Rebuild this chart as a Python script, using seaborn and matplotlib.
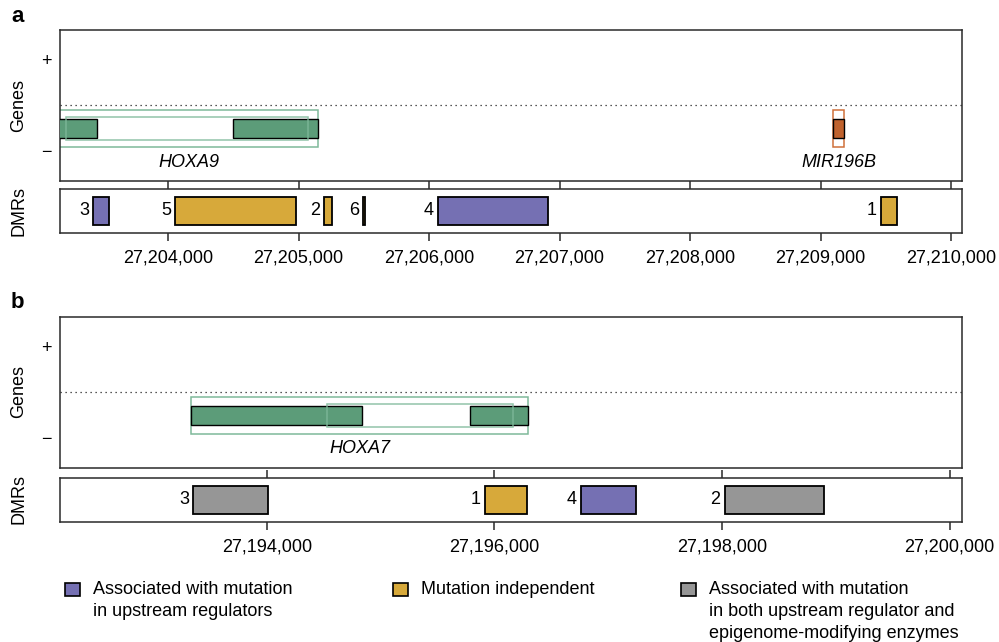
import matplotlib
matplotlib.use("Agg")
import matplotlib.pyplot as plt
from matplotlib.patches import Rectangle
from matplotlib.ticker import FuncFormatter, FixedLocator
import seaborn as sns

# ---------------- data ----------------
# Region a: HOXA9 / MIR196B (chr7, bp)
a_xlim = (27203172, 27210084)
a_ticks = [27204000, 27205000, 27206000, 27207000, 27208000, 27209000, 27210000]
a_gene_names = ["HOXA9", "MIR196B"]
a_tx_start = [27202057, 27209099]
a_tx_end = [27205149, 27209182]
a_cds_start = [27203218, None]
a_cds_end = [27205073, None]
a_exon_start = [[27202057, 27204498], [27209099]]
a_exon_end = [[27203456, 27205149], [27209182]]
a_gene_kind = ["hox", "mir"]

a_dmr_id = ["3", "5", "2", "6", "4", "1"]
a_dmr_start = [27203425, 27204054, 27205195, 27205496, 27206069, 27209464]
a_dmr_end = [27203548, 27204981, 27205257, 27205509, 27206912, 27209586]
a_dmr_class = ["upstream", "independent", "independent", "independent", "upstream", "independent"]

# Region b: HOXA7
b_xlim = (27192184, 27200108)
b_ticks = [27194000, 27196000, 27198000, 27200000]
b_gene_names = ["HOXA7"]
b_tx_start = [27193338]
b_tx_end = [27196296]
b_cds_start = [27194530]
b_cds_end = [27196164]
b_exon_start = [[27193338, 27195786]]
b_exon_end = [[27194837, 27196296]]
b_gene_kind = ["hox"]

b_dmr_id = ["3", "1", "4", "2"]
b_dmr_start = [27193353, 27195918, 27196759, 27198024]
b_dmr_end = [27194011, 27196289, 27197242, 27198896]
b_dmr_class = ["both", "independent", "upstream", "both"]

legend_keys = ["upstream", "independent", "both"]
legend_labels = [
    "Associated with mutation\nin upstream regulators",
    "Mutation independent",
    "Associated with mutation\nin both upstream regulator and\nepigenome-modifying enzymes",
]

# ---------------- style ----------------
sns.set_theme(style="white")
plt.rcParams["font.family"] = ["Liberation Sans", "DejaVu Sans"]
plt.rcParams["font.size"] = 13
plt.rcParams["text.color"] = "black"
plt.rcParams["axes.labelcolor"] = "black"
plt.rcParams["xtick.color"] = "black"
plt.rcParams["ytick.color"] = "black"

class_colors = dict(zip(legend_keys, sns.color_palette(["#7570b3", "#d7a93a", "#969696"])))
gene_fill = {"hox": "#5c9c79", "mir": "#c0622d"}
gene_line = {"hox": "#7fb99a", "mir": "#d0703a"}
frame_col = "#2a2a2a"

W, H = 999, 642
fig = plt.figure(figsize=(W / 100, H / 100), dpi=100)


def px_axes(left, top, right, bottom):
    return fig.add_axes([left / W, 1 - bottom / H, (right - left) / W, (bottom - top) / H])


def style_frame(ax):
    for s in ax.spines.values():
        s.set_visible(True)
        s.set_color(frame_col)
        s.set_linewidth(1.1)


GENE_Y = 0.347


def draw_genes(ax, xlim, names, tx_s, tx_e, cds_s, cds_e, ex_s, ex_e, kinds):
    ax.set_xlim(*xlim)
    ax.set_ylim(0, 1)
    style_frame(ax)
    ax.axhline(0.5, color="#222222", lw=0.9, ls=(0, (1, 3)))
    for i, name in enumerate(names):
        k = kinds[i]
        # transcript outline
        ax.barh(GENE_Y, tx_e[i] - tx_s[i], left=tx_s[i], height=0.245,
                fill=False, edgecolor=gene_line[k], linewidth=1.1, zorder=2)
        # exons
        for s, e in zip(ex_s[i], ex_e[i]):
            ax.barh(GENE_Y, e - s, left=s, height=0.125, color=gene_fill[k],
                    edgecolor="black", linewidth=1.0, zorder=3)
        # coding region outline
        if cds_s[i] is not None:
            ax.barh(GENE_Y, cds_e[i] - cds_s[i], left=cds_s[i], height=0.155,
                    fill=False, edgecolor=gene_line[k], linewidth=1.1, alpha=0.85, zorder=4)
        lo = max(tx_s[i], xlim[0])
        hi = min(tx_e[i], xlim[1])
        ax.text((lo + hi) / 2, 0.125, name, ha="center", va="center",
                fontstyle="italic", fontsize=13)
    ax.set_xticks([])
    ax.set_yticks([0.2, 0.8])
    ax.set_yticklabels(["\u2212", "+"])
    ax.tick_params(axis="y", length=0, pad=6, labelsize=13)


def draw_dmrs(ax, xlim, ticks, ids, starts, ends, classes):
    ax.set_xlim(*xlim)
    ax.set_ylim(0, 1)
    style_frame(ax)
    for lab, s, e, c in zip(ids, starts, ends, classes):
        ax.barh(0.5, e - s, left=s, height=0.63, color=class_colors[c],
                edgecolor="black", linewidth=1.3, zorder=3)
        ax.annotate(lab, xy=(s, 0.5), xytext=(-3, 0), textcoords="offset points",
                    ha="right", va="center", fontsize=13)
    ax.xaxis.set_major_locator(FixedLocator(ticks))
    ax.xaxis.set_major_formatter(FuncFormatter(lambda v, p: f"{int(round(v)):,}"))
    ax.tick_params(axis="x", which="both", bottom=True, top=True, direction="out",
                   length=6, width=1.1, color=frame_col, pad=6, labelsize=13)
    ax.set_yticks([])


# panel a
ax_ag = px_axes(60, 29.7, 962, 181)
draw_genes(ax_ag, a_xlim, a_gene_names, a_tx_start, a_tx_end, a_cds_start, a_cds_end,
           a_exon_start, a_exon_end, a_gene_kind)
ax_ad = px_axes(60, 188.5, 962, 233.3)
draw_dmrs(ax_ad, a_xlim, a_ticks, a_dmr_id, a_dmr_start, a_dmr_end, a_dmr_class)

# panel b
ax_bg = px_axes(60, 316.7, 962, 467.7)
draw_genes(ax_bg, b_xlim, b_gene_names, b_tx_start, b_tx_end, b_cds_start, b_cds_end,
           b_exon_start, b_exon_end, b_gene_kind)
ax_bd = px_axes(60, 477.5, 962, 521.7)
draw_dmrs(ax_bd, b_xlim, b_ticks, b_dmr_id, b_dmr_start, b_dmr_end, b_dmr_class)

# track titles and panel letters
for yc, txt in [(105, "Genes"), (211, "DMRs"), (392, "Genes"), (499.5, "DMRs")]:
    fig.text(19 / W, 1 - yc / H, txt, rotation=90, ha="center", va="center", fontsize=13)
fig.text(11 / W, 1 - 17 / H, "a", fontsize=16, fontweight="bold", ha="left", va="center")
fig.text(11 / W, 1 - 303 / H, "b", fontsize=16, fontweight="bold", ha="left", va="center")

# legend
leg_x = [65, 393, 681]
for x0, key, lab in zip(leg_x, legend_keys, legend_labels):
    fig.add_artist(Rectangle((x0 / W, 1 - 596 / H), 15 / W, 13 / H,
                             transform=fig.transFigure, facecolor=class_colors[key],
                             edgecolor="black", linewidth=1.2))
    fig.text((x0 + 28) / W, 1 - 581 / H, lab, ha="left", va="top", fontsize=13,
             linespacing=1.4)

fig.savefig("out.png", dpi=100)
